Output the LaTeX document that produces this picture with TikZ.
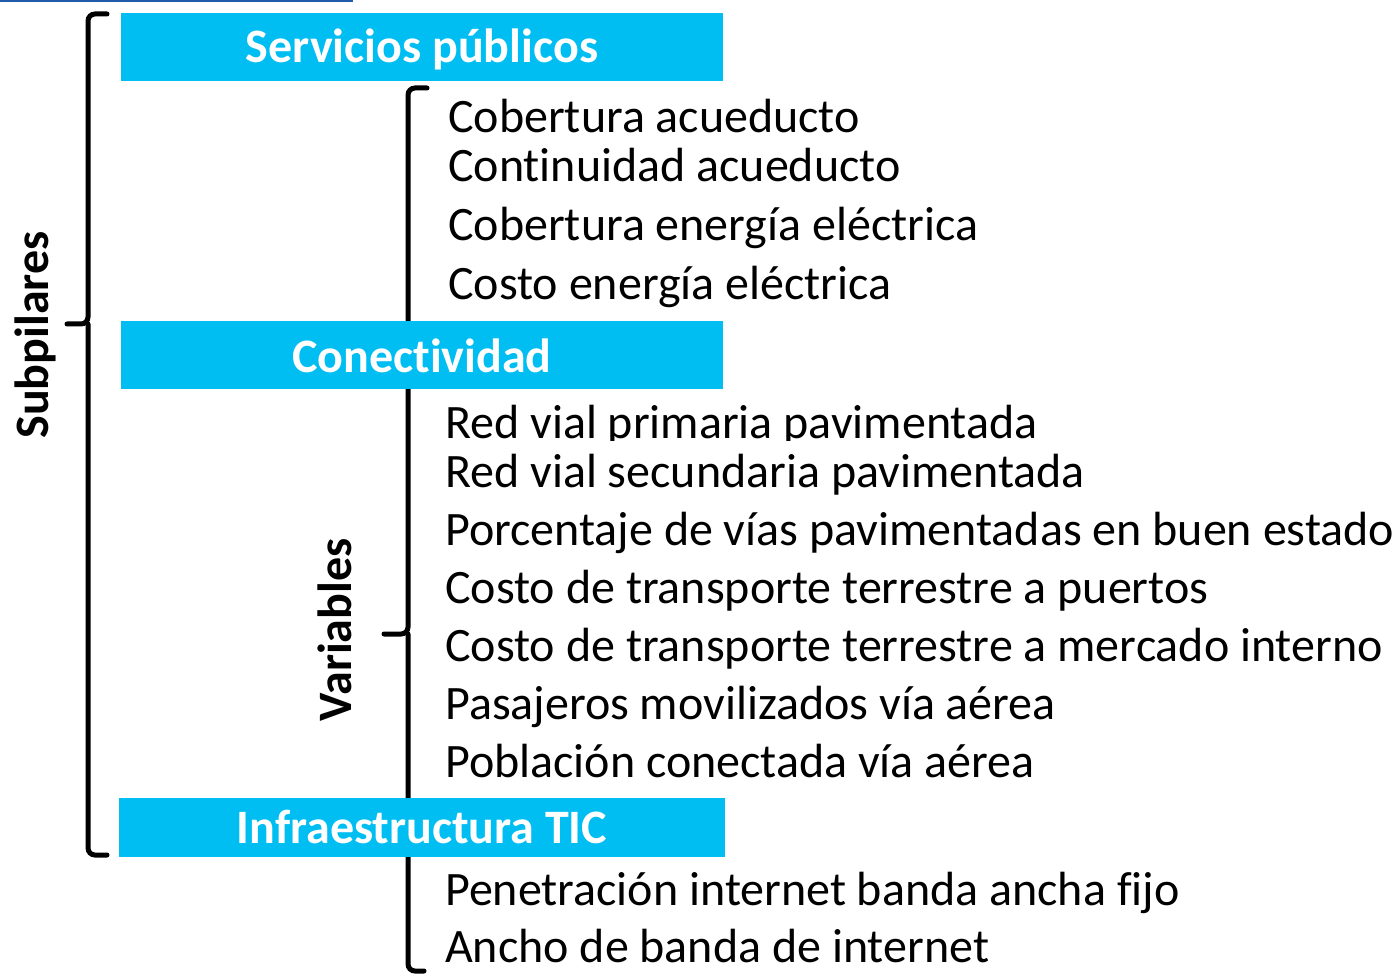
\documentclass[tikz,border=0pt]{standalone}
\usepackage{fontspec}
\setmainfont{Carlito}[Ligatures=NoCommon]
\definecolor{headcyan}{HTML}{00BEF2}
\definecolor{topblue}{HTML}{1F5BA8}

\begin{document}
\begin{tikzpicture}[x=1pt,y=-1pt,
    brace/.style={line width=5pt, rounded corners=7pt, line cap=round},
    headbox/.style={fill=headcyan},
    headtext/.style={anchor=base, text=white, font=\fontsize{48}{52}\selectfont\bfseries},
    sidetext/.style={anchor=base, rotate=90, font=\fontsize{48}{52}\selectfont\bfseries},
    item/.style={anchor=base west, inner sep=0pt, font=\fontsize{48}{52}\selectfont}]
                \useasboundingbox (0,0) rectangle (1395,976);
                \fill[topblue] (0,0) rectangle (353,2); %top line

                % braces
                \draw[brace] (107,14) -- (88,14) -- (88,324) -- (67,324); %subpilares
                \draw[brace] (88,324) -- (88,855) -- (107,855);
                \draw[brace] (427,88) -- (408,88) -- (408,634) -- (384,634); %variables
                \draw[brace] (408,634) -- (408,971) -- (424,971);

                \node[sidetext] (subpilares) at (48,335) {Subpilares};
                \node[sidetext] (variables) at (351,630) {Variables};

                % subpilares
                \fill[headbox] (121,13) rectangle (723,81); %servicios
                \node[headtext] (servicios) at (422,63) {Servicios públicos};
                \fill[headbox] (121,321) rectangle (723,389); %conectividad
                \node[headtext] (conectividad) at (422,372) {Conectividad};
                \fill[headbox] (119,798) rectangle (725,857); %tic
                \node[headtext] (tic) at (422,843) {Infraestructura TIC};

                % servicios publicos
                \node[item] (cobacu) at (448,133) {Cobertura acueducto};
                \node[item] (conacu) at (448,182) {Continuidad acueducto};
                \node[item] (cobene) at (448,241) {Cobertura energía eléctrica};
                \node[item] (cosene) at (448,300) {Costo energía eléctrica};

                % conectividad
                \begin{scope}
                \clip (430,390) rectangle (1395,440);
                \node[item] (vialpri) at (445,438) {Red vial primaria pavimentada};
                \end{scope}
                \node[item] (vialsec) at (445,487) {Red vial secundaria pavimentada};
                \node[item] (buenest) at (445,545) {Porcentaje de vías pavimentadas en buen estado};
                \node[item] (puertos) at (445,603) {Costo de transporte terrestre a puertos};
                \node[item] (mercado) at (445,661) {Costo de transporte terrestre a mercado interno};
                \node[item] (pasaj) at (445,719) {Pasajeros movilizados vía aérea};
                \node[item] (poblac) at (445,777) {Población conectada vía aérea};

                % tic
                \node[item] (penet) at (445,905) {Penetración internet banda ancha fijo};
                \node[item] (ancho) at (445,962) {Ancho de banda de internet};
\end{tikzpicture}
\end{document}
